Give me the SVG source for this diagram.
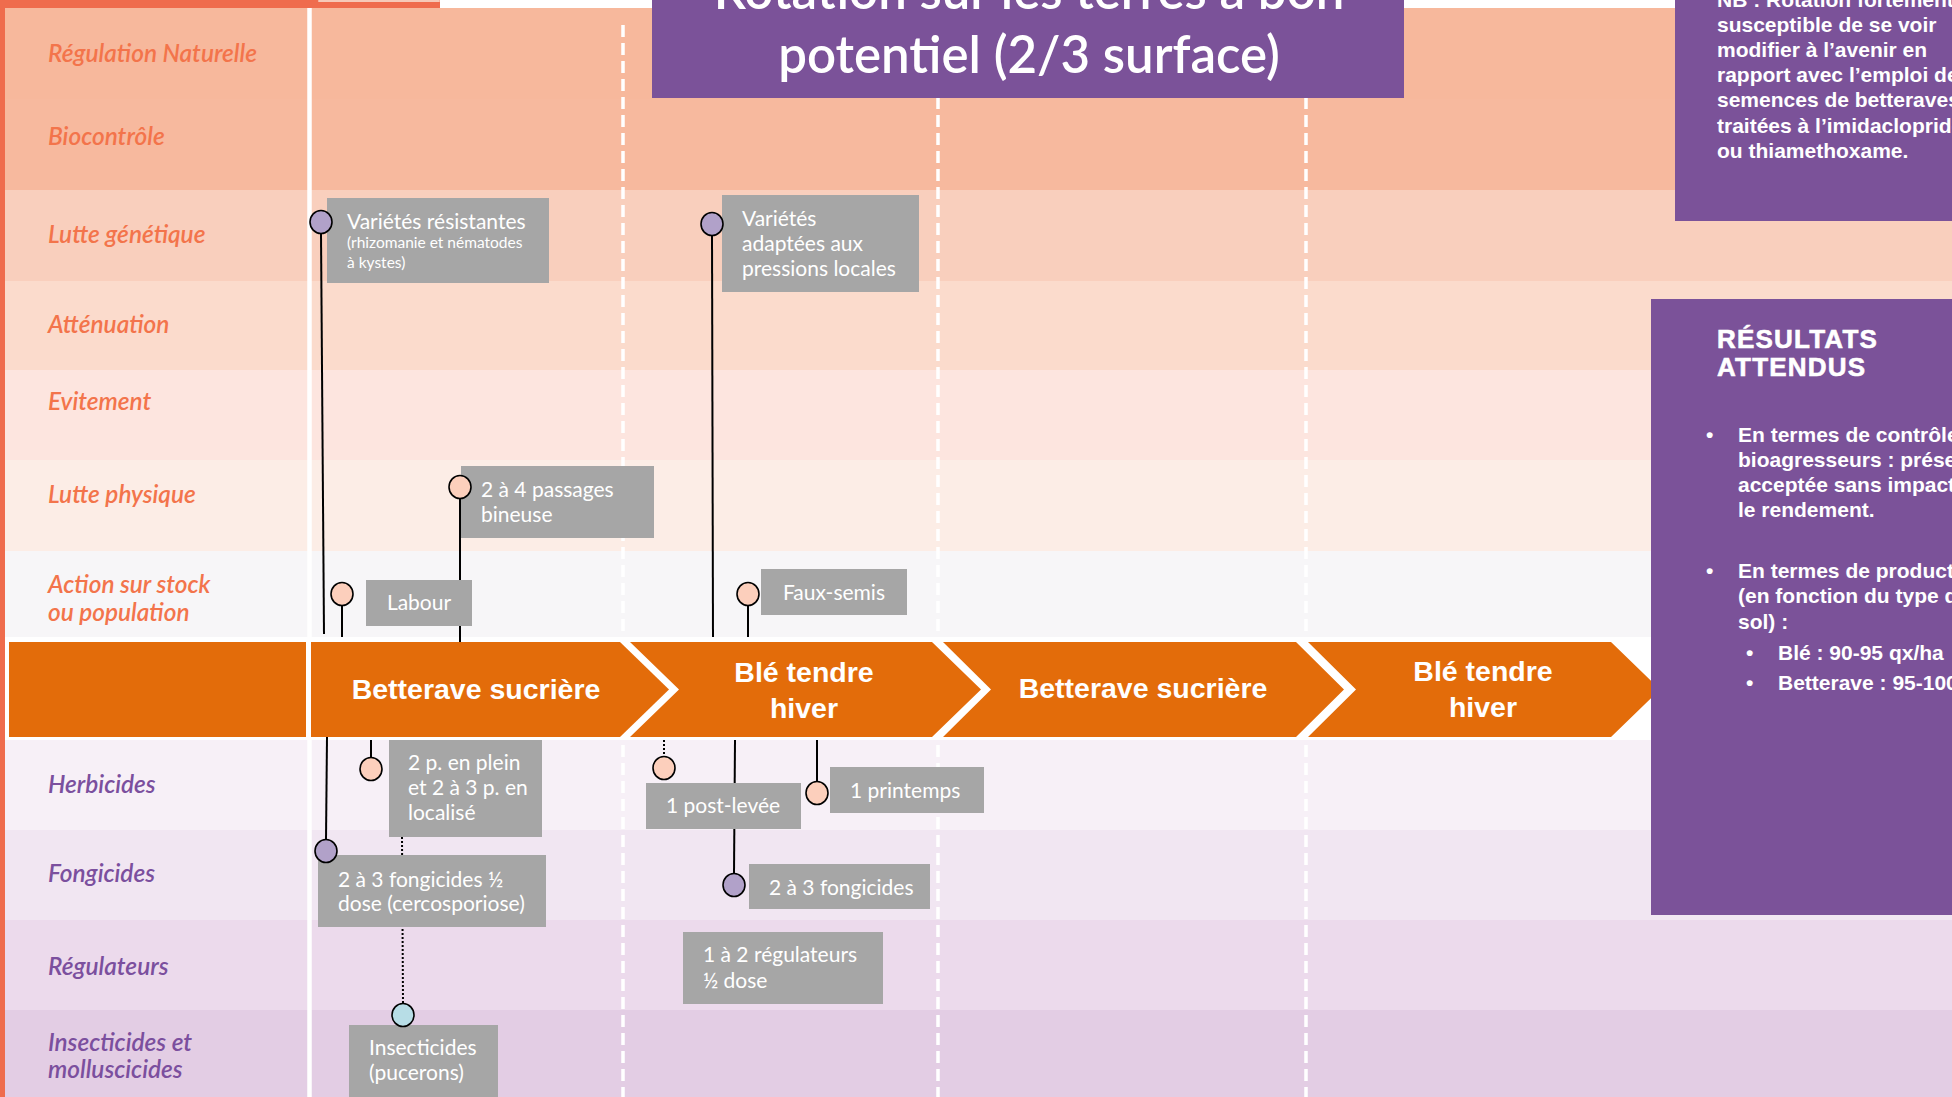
<svg xmlns="http://www.w3.org/2000/svg" width="1952" height="1097" viewBox="0 0 1952 1097">
<defs>
<style>
.lbl{font-family:Lato,"Open Sans","Liberation Sans",sans-serif;font-style:italic;font-weight:600;font-size:24.4px}
.lo{fill:#f3744b}
.lp{fill:#7b4f9e}
.box{fill:#a6a6a6}
.bt{font-family:Lato,"Open Sans","Liberation Sans",sans-serif;font-size:21px;fill:#ffffff}
.bs{font-family:Lato,"Open Sans","Liberation Sans",sans-serif;font-size:15.5px;fill:#ffffff}
.pk{fill:#fccfbc;stroke:#000;stroke-width:1.6}
.pu{fill:#b1a1c9;stroke:#000;stroke-width:1.6}
.bl{fill:#b7dde6;stroke:#000;stroke-width:1.6}
.ln{stroke:#000;stroke-width:2;fill:none}
.dot{stroke:#000;stroke-width:2;stroke-dasharray:2 2;fill:none}
.dash{stroke:#ffffff;stroke-width:3.5;stroke-dasharray:12 6;fill:none}
.chev{fill:#e36c0a}
.ct{font-family:"Liberation Sans",Arial,sans-serif;font-weight:bold;font-size:28.5px;fill:#ffffff;text-anchor:middle}
.purp{fill:#7b5299}
.wt{font-family:"Liberation Sans",Arial,sans-serif;font-weight:bold;font-size:21px;fill:#ffffff}
.hd{font-family:"Liberation Sans",Arial,sans-serif;font-weight:900;font-size:26px;letter-spacing:1.2px;fill:#ffffff;stroke:#ffffff;stroke-width:0.6}
.title{font-family:Lato,"Open Sans",sans-serif;font-size:51px;font-weight:600;fill:#ffffff;text-anchor:middle}
</style>
</defs>
<rect x="0" y="0" width="1952" height="1097" fill="#ffffff"/>
<g id="background">
<rect x="0" y="8" width="1952" height="91" fill="#f7b89c"/>
<rect x="0" y="99" width="1952" height="91" fill="#f7b99e"/>
<rect x="0" y="190" width="1952" height="91" fill="#f9cfbd"/>
<rect x="0" y="281" width="1952" height="89" fill="#fbdbcc"/>
<rect x="0" y="370" width="1952" height="90" fill="#fde5df"/>
<rect x="0" y="460" width="1952" height="91" fill="#fcede6"/>
<rect x="0" y="551" width="1952" height="86" fill="#f7f6f8"/>
<rect x="0" y="637" width="1952" height="103" fill="#ffffff"/>
<rect x="0" y="740" width="1952" height="90" fill="#f7f0f7"/>
<rect x="0" y="830" width="1952" height="90" fill="#f1e6f2"/>
<rect x="0" y="920" width="1952" height="90" fill="#ecdaec"/>
<rect x="0" y="1010" width="1952" height="87" fill="#e3cde4"/>
<rect x="0" y="0" width="440" height="8" fill="#ef6c4d"/>
<rect x="318" y="0" width="122" height="2" rx="1" fill="#f6c9b8"/>
<rect x="0" y="0" width="5" height="1097" fill="#ef6c4d"/>
<line x1="309.5" y1="8" x2="309.5" y2="1097" stroke="#ffffff" stroke-width="4.5"/>
<line class="dash" x1="623" y1="25" x2="623" y2="1097"/>
<line class="dash" x1="938" y1="25" x2="938" y2="1097"/>
<line class="dash" x1="1306" y1="25" x2="1306" y2="1097"/>
</g>
<g id="row-labels">
<text class="lbl lo" x="48" y="62">Régulation Naturelle</text>
<text class="lbl lo" x="48" y="145">Biocontrôle</text>
<text class="lbl lo" x="48" y="243">Lutte génétique</text>
<text class="lbl lo" x="48" y="333">Atténuation</text>
<text class="lbl lo" x="48" y="410">Evitement</text>
<text class="lbl lo" x="48" y="503">Lutte physique</text>
<text class="lbl lo" x="48" y="593">Action sur stock</text>
<text class="lbl lo" x="48" y="621">ou population</text>
<text class="lbl lp" x="48" y="793">Herbicides</text>
<text class="lbl lp" x="48" y="882">Fongicides</text>
<text class="lbl lp" x="48" y="975">Régulateurs</text>
<text class="lbl lp" x="48" y="1051">Insecticides et</text>
<text class="lbl lp" x="48" y="1078">molluscicides</text>
</g>
<g id="rotation">
<g id="chev-0"><rect class="chev" x="9" y="642" width="297" height="95"/></g>
<g id="chev-1"><path class="chev" d="M311,642 H620 L669,689.5 L620,737 H311 Z"/><text class="ct" x="476" y="699">Betterave sucrière</text></g>
<g id="chev-2"><path class="chev" d="M630,642 H932 L981,689.5 L932,737 H630 L679,689.5 Z"/><text class="ct" x="804" y="682">Blé tendre</text><text class="ct" x="804" y="718">hiver</text></g>
<g id="chev-3"><path class="chev" d="M943,642 H1296 L1344,689.5 L1296,737 H943 L991,689.5 Z"/><text class="ct" x="1143" y="698">Betterave sucrière</text></g>
<g id="chev-4"><path class="chev" d="M1308,642 H1611 L1660,689.5 L1611,737 H1308 L1356,689.5 Z"/><text class="ct" x="1483" y="681">Blé tendre</text><text class="ct" x="1483" y="717">hiver</text></g>
</g>
<g id="connectors">
<line class="ln" x1="321" y1="234" x2="324" y2="634"/>
<line class="ln" x1="460" y1="498" x2="460" y2="642"/>
<line class="ln" x1="342" y1="605" x2="342" y2="637"/>
<line class="ln" x1="712" y1="235" x2="713" y2="637"/>
<line class="ln" x1="748" y1="605" x2="748" y2="637"/>
<line class="ln" x1="371" y1="740" x2="371" y2="758"/>
<line class="ln" x1="327" y1="737" x2="326" y2="840"/>
<line class="dot" x1="402" y1="837" x2="403" y2="1004"/>
<line class="dot" x1="664" y1="740" x2="664" y2="757"/>
<line class="ln" x1="735" y1="740" x2="734" y2="874"/>
<line class="ln" x1="817" y1="740" x2="817" y2="782"/>
</g>
<g id="n-varietes-resistantes">
<rect class="box" x="327" y="198" width="222" height="85"/>
<text class="bt" x="347" y="229">Variétés résistantes</text>
<text class="bs" x="347" y="248">(rhizomanie et nématodes</text>
<text class="bs" x="347" y="268">à kystes)</text>
<ellipse class="pu" cx="321" cy="222" rx="11" ry="11.5"/>
</g>
<g id="n-bineuse">
<rect class="box" x="461" y="466" width="193" height="72"/>
<text class="bt" x="481" y="497">2 à 4 passages</text>
<text class="bt" x="481" y="522">bineuse</text>
<ellipse class="pk" cx="460" cy="487" rx="11" ry="11.5"/>
</g>
<g id="n-labour">
<rect class="box" x="366" y="580" width="106" height="46"/>
<text class="bt" x="419" y="610" text-anchor="middle">Labour</text>
<ellipse class="pk" cx="342" cy="594" rx="11" ry="11.5"/>
</g>
<g id="n-varietes-adaptees">
<rect class="box" x="722" y="195" width="197" height="97"/>
<text class="bt" x="742" y="226">Variétés</text>
<text class="bt" x="742" y="251">adaptées aux</text>
<text class="bt" x="742" y="276">pressions locales</text>
<ellipse class="pu" cx="712" cy="224" rx="11" ry="11.5"/>
</g>
<g id="n-faux-semis">
<rect class="box" x="761" y="569" width="146" height="46"/>
<text class="bt" x="834" y="600" text-anchor="middle">Faux-semis</text>
<ellipse class="pk" cx="748" cy="594" rx="11" ry="11.5"/>
</g>
<g id="n-herbicides-betterave">
<rect class="box" x="389" y="740" width="153" height="97"/>
<text class="bt" x="408" y="770">2 p. en plein</text>
<text class="bt" x="408" y="795">et 2 à 3 p. en</text>
<text class="bt" x="408" y="820">localisé</text>
<ellipse class="pk" cx="371" cy="769" rx="11" ry="11.5"/>
</g>
<g id="n-fongicides-betterave">
<rect class="box" x="318" y="855" width="228" height="72"/>
<text class="bt" x="338" y="887">2 à 3 fongicides ½</text>
<text class="bt" x="338" y="911">dose (cercosporiose)</text>
<ellipse class="pu" cx="326" cy="851" rx="11" ry="11.5"/>
</g>
<g id="n-insecticides">
<rect class="box" x="349" y="1025" width="149" height="80"/>
<text class="bt" x="369" y="1055">Insecticides</text>
<text class="bt" x="369" y="1080">(pucerons)</text>
<ellipse class="bl" cx="403" cy="1015" rx="11" ry="11.5"/>
</g>
<g id="n-post-levee">
<rect class="box" x="646" y="783" width="155" height="46"/>
<text class="bt" x="723" y="813" text-anchor="middle">1 post-levée</text>
<ellipse class="pk" cx="664" cy="768" rx="11" ry="11.5"/>
</g>
<g id="n-fongicides-ble">
<rect class="box" x="749" y="864" width="181" height="45"/>
<text class="bt" x="769" y="895">2 à 3 fongicides</text>
<ellipse class="pu" cx="734" cy="885" rx="11" ry="11.5"/>
</g>
<g id="n-printemps">
<rect class="box" x="830" y="767" width="154" height="46"/>
<text class="bt" x="850" y="798">1 printemps</text>
<ellipse class="pk" cx="817" cy="793" rx="11" ry="11.5"/>
</g>
<g id="n-regulateurs">
<rect class="box" x="683" y="932" width="200" height="72"/>
<text class="bt" x="703" y="962">1 à 2 régulateurs</text>
<text class="bt" x="703" y="988">½ dose</text>
</g>
<g id="n-title">
<rect class="purp" x="652" y="-10" width="752" height="108"/>
<text class="title" x="1029" y="9">Rotation sur les terres à bon</text>
<text class="title" x="1029" y="73">potentiel (2/3 surface)</text>
</g>
<g id="n-nb">
<rect class="purp" x="1675" y="-10" width="290" height="231"/>
<text class="wt" x="1717" y="7">NB : Rotation fortement</text>
<text class="wt" x="1717" y="32">susceptible de se voir</text>
<text class="wt" x="1717" y="57">modifier à l’avenir en</text>
<text class="wt" x="1717" y="82">rapport avec l’emploi de</text>
<text class="wt" x="1717" y="107">semences de betteraves</text>
<text class="wt" x="1717" y="133">traitées à l’imidaclopride</text>
<text class="wt" x="1717" y="158">ou thiamethoxame.</text>
</g>
<g id="n-resultats">
<rect class="purp" x="1651" y="299" width="310" height="616"/>
<text class="hd" x="1717" y="348">RÉSULTATS</text>
<text class="hd" x="1717" y="376">ATTENDUS</text>
<text class="wt" x="1706" y="442">•</text>
<text class="wt" x="1738" y="442">En termes de contrôle des</text>
<text class="wt" x="1738" y="467">bioagresseurs : présence</text>
<text class="wt" x="1738" y="492">acceptée sans impact sur</text>
<text class="wt" x="1738" y="517">le rendement.</text>
<text class="wt" x="1706" y="578">•</text>
<text class="wt" x="1738" y="578">En termes de production</text>
<text class="wt" x="1738" y="603">(en fonction du type de</text>
<text class="wt" x="1738" y="629">sol) :</text>
<text class="wt" x="1746" y="660">•</text>
<text class="wt" x="1778" y="660">Blé : 90-95 qx/ha</text>
<text class="wt" x="1746" y="690">•</text>
<text class="wt" x="1778" y="690">Betterave : 95-100 t/ha</text>
</g>
</svg>
